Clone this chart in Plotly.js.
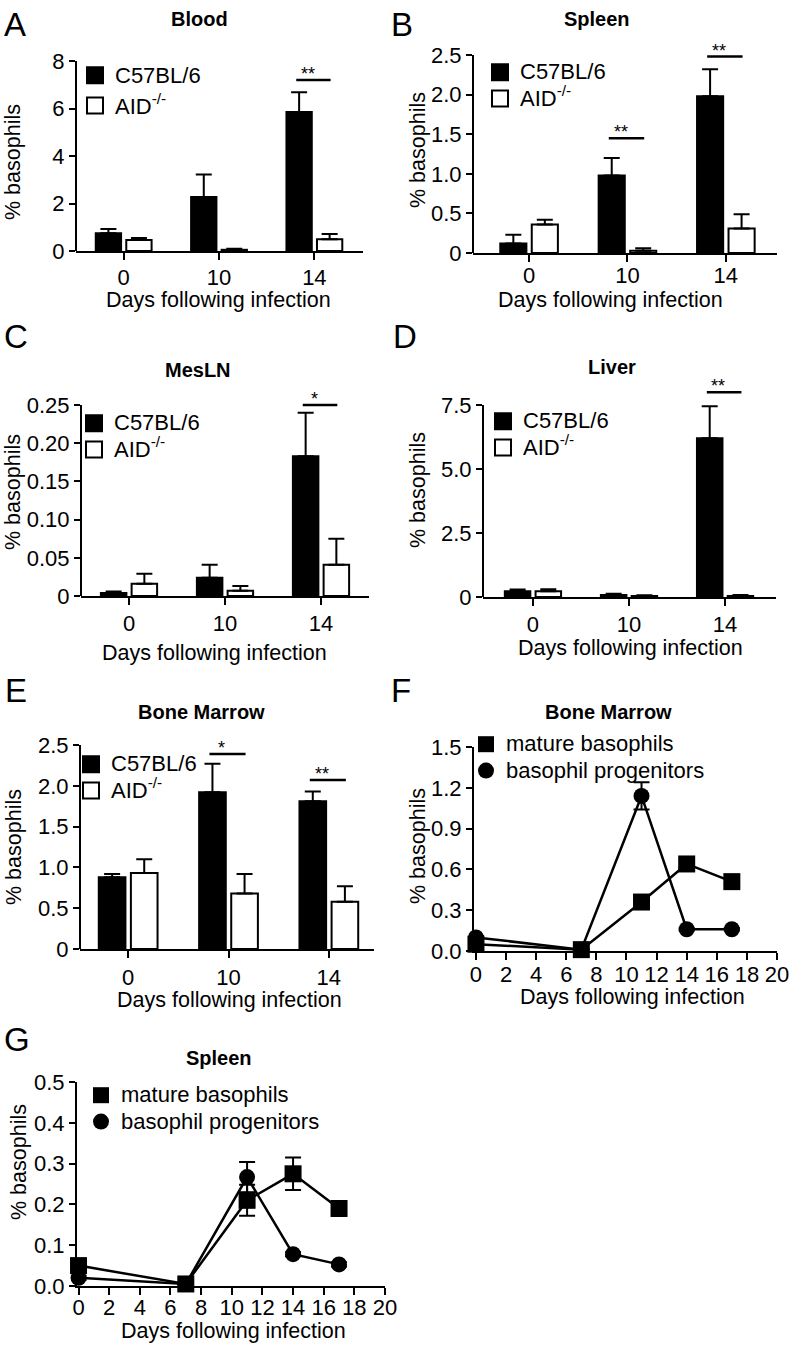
<!DOCTYPE html>
<html><head><meta charset="utf-8">
<script src="https://cdn.plot.ly/plotly-3.0.1.min.js"></script>
<style>html,body{margin:0;padding:0;background:#fff}#chart{width:796px;height:1345px}</style>
</head><body><div id="chart"></div>
<script>
// ================= DATA =================
const barDays = ['0', '10', '14'];
const barSeriesNames = ['C57BL/6', 'AID<sup>-/-</sup>'];
const kinSeriesNames = ['mature basophils', 'basophil progenitors'];
const kinDays = [0, 7, 11, 14, 17];

// A: Blood
const bloodWT = [0.75, 2.27, 5.85];
const bloodWTErr = [0.18, 0.95, 0.83];
const bloodAID = [0.46, 0.05, 0.50];
const bloodAIDErr = [0.09, 0.05, 0.22];
const bloodSigIdx = [2];
const bloodSigY = [7.2];
const bloodSigText = ['**'];
const bloodYTicks = [0, 2, 4, 6, 8];
const bloodYTickText = ['0', '2', '4', '6', '8'];

// B: Spleen
const spleenWT = [0.12, 0.98, 1.98];
const spleenWTErr = [0.11, 0.22, 0.34];
const spleenAID = [0.36, 0.03, 0.31];
const spleenAIDErr = [0.06, 0.03, 0.18];
const spleenSigIdx = [1, 2];
const spleenSigY = [1.45, 2.48];
const spleenSigText = ['**', '**'];
const spleenYTicks = [0, 0.5, 1, 1.5, 2, 2.5];
const spleenYTickText = ['0', '0.5', '1.0', '1.5', '2.0', '2.5'];

// C: MesLN
const meslnWT = [0.004, 0.024, 0.183];
const meslnWTErr = [0.002, 0.017, 0.057];
const meslnAID = [0.016, 0.007, 0.041];
const meslnAIDErr = [0.013, 0.006, 0.034];
const meslnSigIdx = [2];
const meslnSigY = [0.25];
const meslnSigText = ['*'];
const meslnYTicks = [0, 0.05, 0.10, 0.15, 0.20, 0.25];
const meslnYTickText = ['0', '0.05', '0.10', '0.15', '0.20', '0.25'];

// D: Liver
const liverWT = [0.22, 0.08, 6.2];
const liverWTErr = [0.07, 0.05, 1.25];
const liverAID = [0.22, 0.04, 0.04];
const liverAIDErr = [0.08, 0.03, 0.04];
const liverSigIdx = [2];
const liverSigY = [8.0];
const liverSigText = ['**'];
const liverYTicks = [0, 2.5, 5, 7.5];
const liverYTickText = ['0', '2.5', '5.0', '7.5'];

// E: Bone Marrow (bars)
const bmWT = [0.88, 1.92, 1.81];
const bmWTErr = [0.04, 0.35, 0.12];
const bmAID = [0.93, 0.68, 0.58];
const bmAIDErr = [0.17, 0.24, 0.19];
const bmSigIdx = [1, 2];
const bmSigY = [2.39, 2.07];
const bmSigText = ['*', '**'];
const bmYTicks = [0, 0.5, 1, 1.5, 2, 2.5];
const bmYTickText = ['0', '0.5', '1.0', '1.5', '2.0', '2.5'];

// F: Bone Marrow kinetics
const bmMature = [0.05, 0.01, 0.36, 0.64, 0.51];
const bmMatureErr = [0.01, 0.005, 0.02, 0.03, 0.02];
const bmProg = [0.10, 0.01, 1.14, 0.16, 0.16];
const bmProgErr = [0.01, 0.005, 0.10, 0.01, 0.01];
const bmKinYTicks = [0, 0.3, 0.6, 0.9, 1.2, 1.5];
const bmKinYTickText = ['0.0', '0.3', '0.6', '0.9', '1.2', '1.5'];

// G: Spleen kinetics
const spMature = [0.05, 0.005, 0.21, 0.275, 0.19];
const spMatureErr = [0.005, 0.003, 0.038, 0.04, 0.005];
const spProg = [0.02, 0.005, 0.267, 0.078, 0.053];
const spProgErr = [0.005, 0.003, 0.037, 0.005, 0.005];
const spKinYTicks = [0, 0.1, 0.2, 0.3, 0.4, 0.5];
const spKinYTickText = ['0.0', '0.1', '0.2', '0.3', '0.4', '0.5'];

const kinXTicks = [0, 2, 4, 6, 8, 10, 12, 14, 16, 18, 20];
const xTitleText = 'Days following infection';
const yTitleText = '% basophils';

// ================= LAYOUT GEOMETRY (pixels) =================
const W = 796, H = 1345;
const FONT = 'Liberation Sans, Arial, Helvetica, sans-serif';

const barPanels = [
  {letter: 'A', title: 'Blood', n: 1, wt: bloodWT, wtErr: bloodWTErr, aid: bloodAID, aidErr: bloodAIDErr,
   sigIdx: bloodSigIdx, sigY: bloodSigY, sigText: bloodSigText, yt: bloodYTicks, ytt: bloodYTickText,
   g: {xpx: [76, 363], xr: [-0.5, 2.51], y0: 251, yTopPx: 61, letterXY: [2, 24], titleXY: [200, 19],
       yTitleXY: [13, 162], xTitleXY: [218, 300], legXY: [75, 55], legRow: 21, xStand: -1}},
  {letter: 'B', title: 'Spleen', n: 2, wt: spleenWT, wtErr: spleenWTErr, aid: spleenAID, aidErr: spleenAIDErr,
   sigIdx: spleenSigIdx, sigY: spleenSigY, sigText: spleenSigText, yt: spleenYTicks, ytt: spleenYTickText,
   g: {xpx: [473, 777], xr: [-0.57, 2.52], y0: 253, yTopPx: 55, letterXY: [389, 24], titleXY: [597, 19],
       yTitleXY: [418, 150], xTitleXY: [610, 300], legXY: [480, 54], legRow: 18, xStand: -5}},
  {letter: 'C', title: 'MesLN', n: 3, wt: meslnWT, wtErr: meslnWTErr, aid: meslnAID, aidErr: meslnAIDErr,
   sigIdx: meslnSigIdx, sigY: meslnSigY, sigText: meslnSigText, yt: meslnYTicks, ytt: meslnYTickText,
   g: {xpx: [81, 369], xr: [-0.5, 2.5], y0: 596, yTopPx: 405, letterXY: [2, 336], titleXY: [198, 370],
       yTitleXY: [13, 492], xTitleXY: [215, 653], legXY: [74, 405], legRow: 18, xStand: 0}},
  {letter: 'D', title: 'Liver', n: 4, wt: liverWT, wtErr: liverWTErr, aid: liverAID, aidErr: liverAIDErr,
   sigIdx: liverSigIdx, sigY: liverSigY, sigText: liverSigText, yt: liverYTicks, ytt: liverYTickText,
   g: {xpx: [483, 776], xr: [-0.52, 2.53], y0: 597, yTopPx: 405, letterXY: [391, 336], titleXY: [612, 367],
       yTitleXY: [418, 490], xTitleXY: [630, 648], legXY: [483, 403], legRow: 18, xStand: 0}},
  {letter: 'E', title: 'Bone Marrow', n: 5, wt: bmWT, wtErr: bmWTErr, aid: bmAID, aidErr: bmAIDErr,
   sigIdx: bmSigIdx, sigY: bmSigY, sigText: bmSigText, yt: bmYTicks, ytt: bmYTickText,
   g: {xpx: [80, 374], xr: [-0.48, 2.45], y0: 949, yTopPx: 745, letterXY: [3, 690], titleXY: [201, 712],
       yTitleXY: [14, 847], xTitleXY: [229, 1000], legXY: [71, 746], legRow: 18, xStand: 1}}
];

const kinPanels = [
  {letter: 'F', title: 'Bone Marrow', n: 6, mature: bmMature, matureErr: bmMatureErr, prog: bmProg, progErr: bmProgErr,
   yt: bmKinYTicks, ytt: bmKinYTickText,
   g: {xpx: [474, 777], xr: [-0.13, 20], y0: 951, yTopPx: 747, yTop: 1.5, letterXY: [389, 690], titleXY: [608, 712],
       yTitleXY: [418, 846], xTitleXY: [632, 997], legXY: [466, 726], legRow: 18, xStand: -4}},
  {letter: 'G', title: 'Spleen', n: 7, mature: spMature, matureErr: spMatureErr, prog: spProg, progErr: spProgErr,
   yt: spKinYTicks, ytt: spKinYTickText,
   g: {xpx: [77, 385], xr: [-0.1, 20], y0: 1286, yTopPx: 1082, yTop: 0.5, letterXY: [2, 1039], titleXY: [219, 1058],
       yTitleXY: [19, 1162], xTitleXY: [233, 1331], legXY: [81, 1077], legRow: 18, xStand: -6}}
];

// ================= BUILD =================
const px2x = p => p / W;
const px2y = p => 1 - p / H;
const legendLabel = t => '<span style="font-size:22px">' + t + '</span>';
const traces = [];
const layout = {
  width: W, height: H, margin: {l: 0, r: 0, t: 0, b: 0},
  paper_bgcolor: '#fff', plot_bgcolor: 'rgba(0,0,0,0)',
  font: {family: FONT, color: '#000', size: 22},
  barmode: 'group', bargap: 0.36, bargroupgap: 0.17,
  showlegend: true, shapes: [], annotations: []
};

function axisSuffix(n) { return n === 1 ? '' : String(n); }

function addTexts(p) {
  const g = p.g;
  layout.annotations.push(
    {text: p.letter, xref: 'paper', yref: 'paper', x: px2x(g.letterXY[0]), y: px2y(g.letterXY[1]),
     xanchor: 'left', yanchor: 'middle', showarrow: false, font: {size: 33, family: FONT}},
    {text: '<b>' + p.title + '</b>', xref: 'paper', yref: 'paper', x: px2x(g.titleXY[0]), y: px2y(g.titleXY[1]),
     xanchor: 'center', yanchor: 'middle', showarrow: false, font: {size: 20, family: FONT}},
    {text: yTitleText, xref: 'paper', yref: 'paper', x: px2x(g.yTitleXY[0]), y: px2y(g.yTitleXY[1]),
     xanchor: 'center', yanchor: 'middle', textangle: -90, showarrow: false, font: {size: 21.5, family: FONT}},
    {text: xTitleText, xref: 'paper', yref: 'paper', x: px2x(g.xTitleXY[0]), y: px2y(g.xTitleXY[1]),
     xanchor: 'center', yanchor: 'middle', showarrow: false, font: {size: 21.5, family: FONT}}
  );
}

function legendDef(g) {
  return {x: px2x(g.legXY[0]), y: px2y(g.legXY[1]), xanchor: 'left', yanchor: 'top',
          bgcolor: 'rgba(0,0,0,0)', borderwidth: 0, tracegroupgap: 0,
          font: {size: g.legRow, family: FONT}};
}

function xAxisBase(g, ya) {
  return {domain: [px2x(g.xpx[0]), px2x(g.xpx[1])], anchor: ya, range: g.xr,
    showline: true, linewidth: 2, linecolor: '#000', ticks: 'outside', ticklen: 7, tickwidth: 2,
    tickcolor: '#000', showgrid: false, zeroline: false, fixedrange: true,
    ticklabelstandoff: g.xStand, tickfont: {size: 22, family: FONT}};
}

barPanels.forEach(p => {
  const s = axisSuffix(p.n), xa = 'x' + s, ya = 'y' + s;
  const g = p.g;
  const topTick = p.yt[p.yt.length - 1];
  const yTop = Math.max(topTick, Math.max(...p.sigY) * 1.04);
  const ppu = (g.y0 - g.yTopPx) / topTick;
  const domTopPx = g.y0 - yTop * ppu;
  const legName = p.n === 1 ? 'legend' : 'legend' + p.n;

  const errStyle = {type: 'data', symmetric: false, thickness: 2, width: 8, color: '#000'};
  traces.push({type: 'bar', x: barDays, y: p.wt, xaxis: xa, yaxis: ya, showlegend: false,
    marker: {color: '#000', line: {color: '#000', width: 2}},
    error_y: Object.assign({array: p.wtErr, arrayminus: p.wtErr.map(() => 0)}, errStyle)});
  traces.push({type: 'bar', x: barDays, y: p.aid, xaxis: xa, yaxis: ya, showlegend: false,
    marker: {color: '#fff', line: {color: '#000', width: 2}},
    error_y: Object.assign({array: p.aidErr, arrayminus: p.aidErr.map(() => 0)}, errStyle)});
  traces.push({type: 'scatter', mode: 'markers', x: [null], y: [null], xaxis: xa, yaxis: ya,
    name: legendLabel(barSeriesNames[0]), legend: legName,
    marker: {symbol: 'square', size: 16, color: '#000', line: {color: '#000', width: 2}}});
  traces.push({type: 'scatter', mode: 'markers', x: [null], y: [null], xaxis: xa, yaxis: ya,
    name: legendLabel(barSeriesNames[1]), legend: legName,
    marker: {symbol: 'square', size: 16, color: '#fff', line: {color: '#000', width: 2}}});

  layout['xaxis' + s] = Object.assign(xAxisBase(g, ya), {type: 'category'});
  layout['yaxis' + s] = {domain: [px2y(g.y0), px2y(domTopPx)], anchor: xa, range: [0, yTop],
    showline: false, ticks: 'outside', ticklen: 6, tickwidth: 2, tickcolor: '#000',
    tickmode: 'array', tickvals: p.yt, ticktext: p.ytt, showgrid: false, zeroline: false, fixedrange: true,
    tickfont: {size: 22, family: FONT}};
  // y axis line ends at the top tick
  layout.shapes.push({type: 'line', xref: xa + ' domain', yref: ya, x0: 0, x1: 0, y0: 0, y1: topTick,
    line: {color: '#000', width: 2}});
  // significance bars
  p.sigIdx.forEach((ci, k) => {
    layout.shapes.push({type: 'line', xref: xa, yref: ya, x0: ci - 0.19, x1: ci + 0.17,
      y0: p.sigY[k], y1: p.sigY[k], line: {color: '#000', width: 2.5}});
    layout.annotations.push({text: p.sigText[k], xref: xa, yref: ya, x: ci - 0.07, y: p.sigY[k],
      xanchor: 'center', yanchor: 'bottom', yshift: -6, showarrow: false, font: {size: 18, family: FONT}});
  });
  layout[legName] = legendDef(g);
  addTexts(p);
});

kinPanels.forEach(p => {
  const s = axisSuffix(p.n), xa = 'x' + s, ya = 'y' + s;
  const g = p.g;
  const legName = 'legend' + p.n;
  const errStyle = {type: 'data', thickness: 2, width: 8, color: '#000'};
  traces.push({type: 'scatter', mode: 'lines+markers', x: kinDays, y: p.mature, xaxis: xa, yaxis: ya,
    showlegend: false, cliponaxis: false, line: {color: '#000', width: 2.5},
    marker: {symbol: 'square', size: 17, color: '#000'},
    error_y: Object.assign({array: p.matureErr}, errStyle)});
  traces.push({type: 'scatter', mode: 'lines+markers', x: kinDays, y: p.prog, xaxis: xa, yaxis: ya,
    showlegend: false, cliponaxis: false, line: {color: '#000', width: 2.5},
    marker: {symbol: 'circle', size: 16, color: '#000'},
    error_y: Object.assign({array: p.progErr}, errStyle)});
  traces.push({type: 'scatter', mode: 'markers', x: [null], y: [null], xaxis: xa, yaxis: ya,
    name: legendLabel(kinSeriesNames[0]), legend: legName, marker: {symbol: 'square', size: 16, color: '#000'}});
  traces.push({type: 'scatter', mode: 'markers', x: [null], y: [null], xaxis: xa, yaxis: ya,
    name: legendLabel(kinSeriesNames[1]), legend: legName, marker: {symbol: 'circle', size: 16, color: '#000'}});

  layout['xaxis' + s] = Object.assign(xAxisBase(g, ya), {tickmode: 'array', tickvals: kinXTicks});
  layout['yaxis' + s] = {domain: [px2y(g.y0), px2y(g.yTopPx)], anchor: xa, range: [0, g.yTop],
    showline: true, linewidth: 2, linecolor: '#000', ticks: 'outside', ticklen: 6, tickwidth: 2,
    tickcolor: '#000', tickmode: 'array', tickvals: p.yt, ticktext: p.ytt, showgrid: false,
    zeroline: false, fixedrange: true, tickfont: {size: 22, family: FONT}};
  layout[legName] = legendDef(g);
  addTexts(p);
});

Plotly.newPlot('chart', traces, layout, {staticPlot: true, displayModeBar: false});
</script>
</body></html>
